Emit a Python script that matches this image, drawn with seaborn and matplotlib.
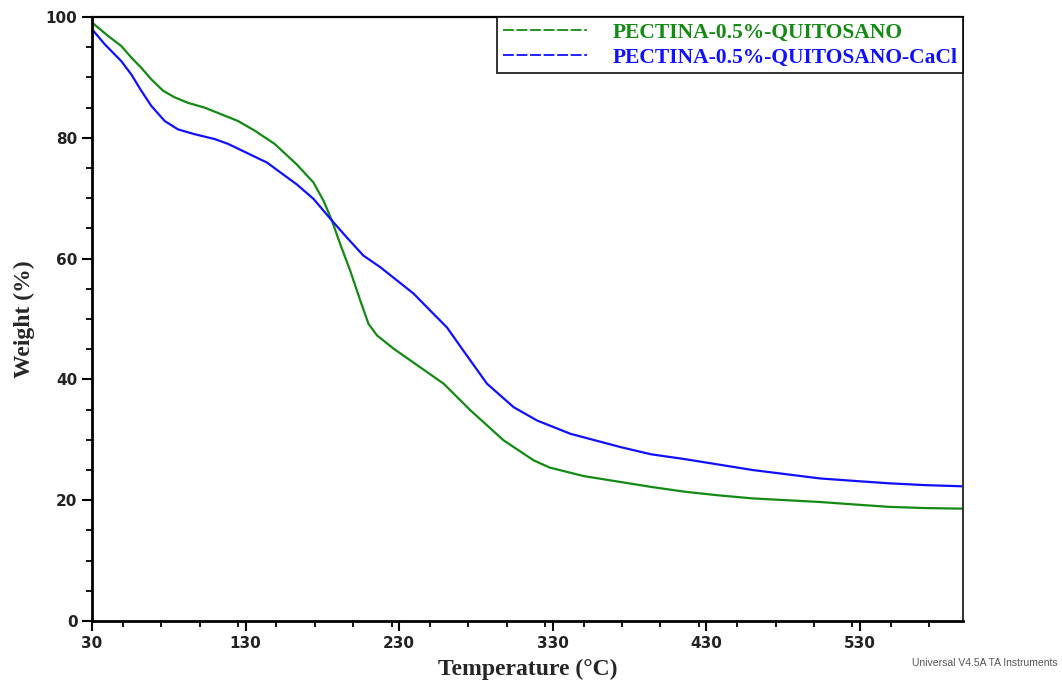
import numpy as np
import pandas as pd
import matplotlib
matplotlib.use("Agg")
import matplotlib.pyplot as plt
from matplotlib.lines import Line2D
from matplotlib.ticker import MultipleLocator
import seaborn as sns

# TGA curves
temp_green = [30, 40.4, 49.1, 55.6, 62.1, 68.6, 76.3, 83.9, 92.5, 103.4, 114.2, 125, 135.9, 148.9,
              163.3, 174.2, 180.7, 186.2, 191.6, 198.1, 204.6, 210, 215.5, 226.3, 243.7, 258.9,
              276.3, 298, 317.5, 328, 350, 372, 394, 416, 438, 460, 482, 504, 526, 548.6, 572, 597]
weight_green = [99.1, 96.9, 95.2, 93.3, 91.6, 89.7, 87.8, 86.7, 85.8, 85.0, 83.9, 82.8, 81.2, 79.0,
                75.6, 72.6, 69.6, 66.3, 62.4, 58.0, 53.1, 49.2, 47.3, 45.1, 42.0, 39.3,
                34.9, 29.9, 26.6, 25.4, 24.0, 23.1, 22.2, 21.4, 20.8, 20.3, 20.0, 19.7, 19.3, 18.9, 18.7, 18.6]

temp_blue = [30, 38.3, 49.1, 55.6, 62.1, 68.6, 77.3, 86, 96.9, 109.9, 118.6, 144, 152.5, 163.3,
             174.2, 186.2, 195.9, 206.7, 217.6, 228.5, 239.4, 250.2, 261.1, 270.8, 287.1, 304.5,
             319.7, 341.4, 374, 394, 416, 438, 460, 482, 504, 526, 548.6, 572, 597]
weight_blue = [98.0, 95.5, 92.7, 90.5, 87.8, 85.3, 82.8, 81.4, 80.6, 79.8, 79.0, 75.9, 74.3, 72.3,
               69.9, 66.3, 63.5, 60.5, 58.6, 56.4, 54.2, 51.4, 48.6, 45.1, 39.3, 35.4,
               33.2, 31.0, 28.8, 27.6, 26.8, 25.9, 25.0, 24.3, 23.6, 23.2, 22.8, 22.5, 22.3]

labels = ["PECTINA-0.5%-QUITOSANO", "PECTINA-0.5%-QUITOSANO-CaCl"]
colors = ["#138a13", "#1010ff"]

sns.set_style("white")
fig = plt.figure(figsize=(10.62, 6.83), dpi=100)
ax = fig.add_axes([0.0866, 0.0908, 0.8202, 0.8842])

sns.lineplot(x=temp_green, y=weight_green, ax=ax, color=colors[0], lw=1.6)
sns.lineplot(x=temp_blue, y=weight_blue, ax=ax, color=colors[1], lw=1.6)

ax.set_xlim(30, 597)
ax.set_ylim(0, 100)
ax.set_xticks([30, 130, 230, 330, 430, 530])
ax.xaxis.set_minor_locator(MultipleLocator(25))
ax.set_yticks([0, 20, 40, 60, 80, 100])
ax.yaxis.set_minor_locator(MultipleLocator(5))
ax.tick_params(which="both", bottom=True, left=True, top=False, right=False)
ax.tick_params(which="major", direction="out", length=7, width=1.5, labelsize=11, colors="black")
ax.tick_params(which="minor", direction="out", length=4, width=1.3, colors="black")
for lab in ax.get_xticklabels() + ax.get_yticklabels():
    lab.set_fontweight("bold")
    lab.set_color("#222222")

for side in ["left", "bottom"]:
    ax.spines[side].set_linewidth(2)
    ax.spines[side].set_color("black")
ax.spines["top"].set_linewidth(1.6)
ax.spines["top"].set_color("black")
ax.spines["right"].set_linewidth(1.4)
ax.spines["right"].set_color("#333333")

ax.set_xlabel("Temperature (°C)", fontsize=17, fontweight="bold", family="Liberation Serif", labelpad=6)
ax.set_ylabel("Weight (%)", fontsize=17, fontweight="bold", family="Liberation Serif", labelpad=8)

handles = [Line2D([], [], color=c, lw=1.3, ls=(0, (6, 1.5))) for c in colors]
leg = ax.legend(handles, labels, loc="upper right", bbox_to_anchor=(1.0, 1.0),
                frameon=True, fancybox=False, borderaxespad=0, handlelength=3.9,
                handletextpad=1.2, labelspacing=0.25, borderpad=0.25,
                prop={"family": "Liberation Serif", "weight": "bold", "size": 15.5})
leg.get_frame().set_edgecolor("black")
leg.get_frame().set_linewidth(1.4)
for txt, c in zip(leg.get_texts(), colors):
    txt.set_color(c)

fig.text(0.996, 0.022, "Universal V4.5A TA Instruments", ha="right", va="bottom",
         fontsize=7.5, color="#555555", family="Liberation Sans")

fig.savefig("out.png", dpi=100, facecolor="white")
